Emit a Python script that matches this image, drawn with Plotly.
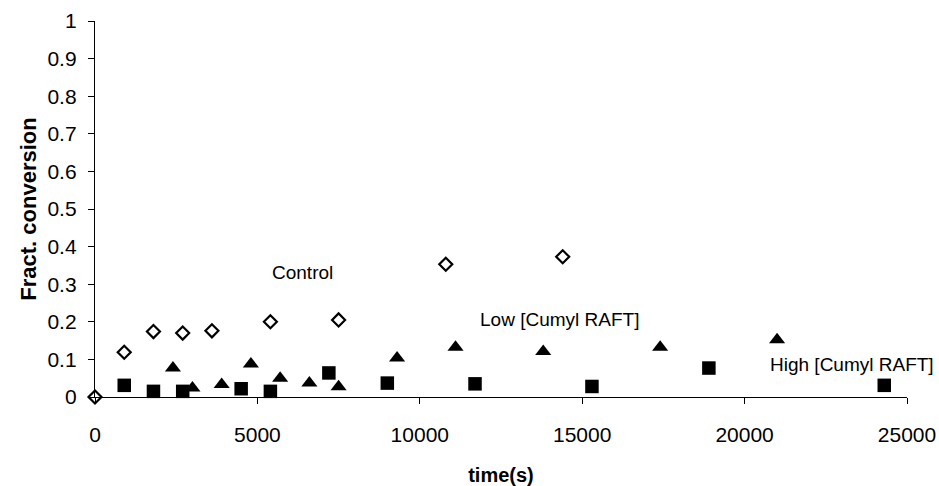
import plotly.graph_objects as go

# Control
control_t = [0, 900, 1800, 2700, 3600, 5400, 7500, 10800, 14400]
control_x = [0.0, 0.119, 0.174, 0.170, 0.176, 0.200, 0.205, 0.353, 0.373]

# Low [Cumyl RAFT]
low_t = [2400, 3000, 3900, 4800, 5700, 6600, 7500, 9300, 11100, 13800, 17400, 21000]
low_x = [0.077, 0.024, 0.033, 0.088, 0.050, 0.037, 0.027, 0.104, 0.132, 0.121, 0.132, 0.152]

# High [Cumyl RAFT]
high_t = [900, 1800, 2700, 4500, 5400, 7200, 9000, 11700, 15300, 18900, 24300]
high_x = [0.031, 0.015, 0.015, 0.022, 0.015, 0.064, 0.037, 0.035, 0.028, 0.077, 0.031]

labels = ["Control", "Low [Cumyl RAFT]", "High [Cumyl RAFT]"]
label_pos_t = [6400, 14300, 23300]
label_pos_x = [0.33, 0.205, 0.086]

y_ticks = [0, 0.1, 0.2, 0.3, 0.4, 0.5, 0.6, 0.7, 0.8, 0.9, 1]
y_ticktext = ["0", "0.1", "0.2", "0.3", "0.4", "0.5", "0.6", "0.7", "0.8", "0.9", "1"]
x_ticks = [0, 5000, 10000, 15000, 20000, 25000]
x_ticktext = ["0", "5000", "10000", "15000", "20000", "25000"]

FONT = "Liberation Sans, Arial, sans-serif"

fig = go.Figure()
fig.add_trace(go.Scatter(
    x=control_t, y=control_x, mode="markers", name="Control", cliponaxis=False,
    marker=dict(symbol="diamond-open", size=10, color="black", line=dict(width=2.2, color="black")),
))
fig.add_trace(go.Scatter(
    x=low_t, y=low_x, mode="markers", name="Low", cliponaxis=False,
    marker=dict(symbol="triangle-up", size=14, color="black", line=dict(width=0)),
))
fig.add_trace(go.Scatter(
    x=high_t, y=high_x, mode="markers", name="High", cliponaxis=False,
    marker=dict(symbol="square", size=13.5, color="black", line=dict(width=0)),
))

for txt, tx, ty in zip(labels, label_pos_t, label_pos_x):
    fig.add_annotation(x=tx, y=ty, text=txt, showarrow=False,
                       font=dict(family=FONT, size=19, color="black"),
                       xanchor="center", yanchor="middle")

fig.update_layout(
    width=939, height=486,
    margin=dict(l=95, r=32, t=21, b=89),
    paper_bgcolor="white", plot_bgcolor="white",
    showlegend=False,
    font=dict(family=FONT, color="black"),
    xaxis=dict(
        range=[0, 25000], tickvals=x_ticks, ticktext=x_ticktext, showgrid=False, zeroline=False,
        showline=True, linecolor="black", linewidth=1.3, automargin=False,
        ticks="outside", ticklen=6, tickcolor="black",
        tickfont=dict(family=FONT, size=21), ticklabelstandoff=13,
        title=dict(text="<b>time(s)</b>", font=dict(family=FONT, size=20), standoff=26),
    ),
    yaxis=dict(
        range=[0, 1], tickvals=y_ticks, ticktext=y_ticktext, showgrid=False, zeroline=False,
        showline=True, linecolor="black", linewidth=1.3, automargin=False,
        ticks="outside", ticklen=6, tickcolor="black",
        tickfont=dict(family=FONT, size=21), ticklabelstandoff=7,
        title=dict(text="<b>Fract. conversion</b>", font=dict(family=FONT, size=22), standoff=4),
    ),
)

# remove the default page margin so the figure fills the window exactly
fig.write_html("out.html",
               config={"displayModeBar": False},
               post_script="document.body.style.margin='0';document.body.style.overflow='hidden';")
